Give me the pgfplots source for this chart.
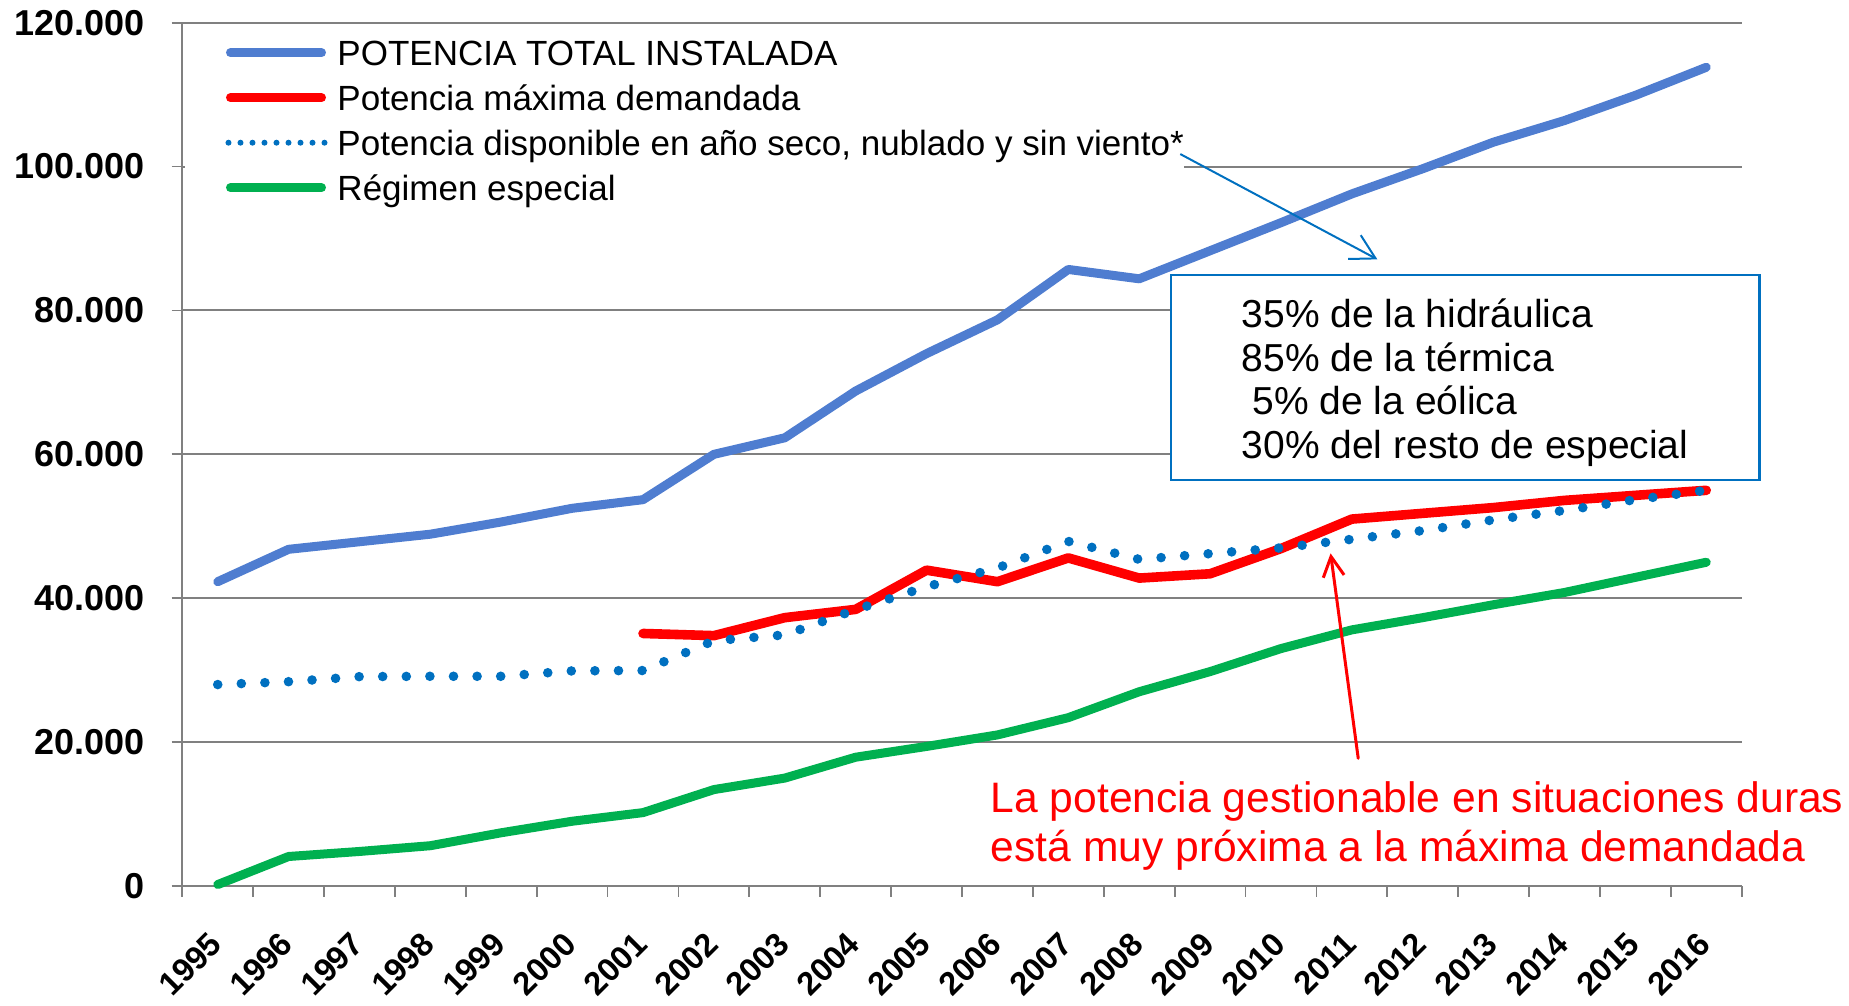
\documentclass[border=0pt]{standalone}
\usepackage{fontspec}
\setmainfont{Liberation Sans}
\usepackage{pgfplots}
\pgfplotsset{compat=1.18}
\usetikzlibrary{arrows.meta}
\definecolor{cBlue}{RGB}{79,125,208}
\definecolor{cRed}{RGB}{255,0,0}
\definecolor{cDot}{RGB}{0,112,192}
\definecolor{cGreen}{RGB}{0,176,80}
\definecolor{cGrid}{RGB}{128,128,128}
\begin{document}
\begin{tikzpicture}
\path[use as bounding box] (-91.15pt,-60pt) rectangle (833.35pt,443pt);
\begin{axis}[
  at={(0pt,0pt)}, anchor=south west,
  scale only axis, width=779.7pt, height=431.65pt,
  xmin=-0.5, xmax=21.5, ymin=0, ymax=120000,
  axis x line*=bottom, axis y line*=left,
  axis line style={-, cGrid, line width=0.9pt},
  xtick={-0.5,0.5,...,21.5},
  xticklabels={1995,1996,1997,1998,1999,2000,2001,2002,2003,2004,2005,2006,2007,2008,2009,2010,2011,2012,2013,2014,2015,2016},
  x tick label as interval,
  ytick={0,20000,40000,60000,80000,100000,120000},
  yticklabels={0,20.000,40.000,60.000,80.000,100.000,120.000},
  scaled y ticks=false,
  ymajorgrids, grid style={cGrid, line width=1pt},
  tick align=outside, major tick length=5.3pt,
  tick style={cGrid, line width=0.9pt},
  xticklabel style={yshift=-20.85pt, xshift=-0.8pt, rotate=45, anchor=east, inner sep=0pt, font=\fontsize{16.3}{16.3}\selectfont\bfseries},
  yticklabel style={xshift=-13.3pt, anchor=east, inner sep=0pt, font=\fontsize{18}{18}\selectfont\bfseries},
  clip=false,
  legend cell align=left,
  legend style={at={(0,1)}, anchor=north west, xshift=1pt, yshift=-4.5pt, draw=none, fill=white,
    inner xsep=0pt, inner ysep=0pt, row sep=1.9pt, column sep=5pt,
    font=\fontsize{17.5}{21}\selectfont,
    nodes={inner sep=0pt, text height=16.6pt, text depth=4pt}},
]
\addplot[cBlue, line width=4.5pt, line cap=round, line join=round,
  legend image code/.code={\path[draw=none] (0pt,0pt) -- (22.9pt,0pt); \draw[cBlue, line width=4.5pt, line cap=round, solid] (22.9pt,0pt) -- (68.4pt,0pt);}]
  coordinates {(0,42300)(1,46800)(2,47850)(3,48900)(4,50600)(5,52500)(6,53700)(7,60000)(8,62300)(9,68800)(10,74000)(11,78700)(12,85700)(13,84400)(14,88300)(15,92200)(16,96200)(17,99700)(18,103400)(19,106400)(20,109900)(21,113800)};
\addlegendentry{POTENCIA TOTAL INSTALADA}
\addplot[cRed, line width=4.8pt, line cap=round, line join=round,
  legend image code/.code={\path[draw=none] (0pt,0pt) -- (22.9pt,0pt); \draw[cRed, line width=4.5pt, line cap=round, solid] (22.9pt,0pt) -- (68.4pt,0pt);}]
  coordinates {(6,35100)(7,34800)(8,37300)(9,38450)(10,43900)(11,42300)(12,45600)(13,42800)(14,43400)(15,46900)(16,51000)(17,51800)(18,52600)(19,53600)(20,54300)(21,55000)};
\addlegendentry{Potencia máxima demandada}
\addplot[cDot, line width=4.8pt, line cap=round, line join=round, dash pattern=on 0pt off 11.8pt,
  legend image code/.code={\path[draw=none] (0pt,0pt) -- (22.9pt,0pt); \draw[cDot, line width=3pt, line cap=round, dash pattern=on 0pt off 6pt] (21.9pt,0pt) -- (69.9pt,0pt);}]
  coordinates {(0,28000)(1,28400)(2,29100)(3,29150)(4,29150)(5,29900)(6,29950)(7,34100)(8,34900)(9,38400)(10,41600)(11,44200)(12,47900)(13,45400)(14,46200)(15,47000)(16,48200)(17,49400)(18,50900)(19,52200)(20,53700)(21,55000)};
\addlegendentry{Potencia disponible en año seco, nublado y sin viento*}
\addplot[cGreen, line width=4.5pt, line cap=round, line join=round,
  legend image code/.code={\path[draw=none] (0pt,0pt) -- (22.9pt,0pt); \draw[cGreen, line width=4.5pt, line cap=round, solid] (22.9pt,0pt) -- (68.4pt,0pt);}]
  coordinates {(0,200)(1,4100)(2,4800)(3,5600)(4,7400)(5,9000)(6,10200)(7,13400)(8,15000)(9,17900)(10,19400)(11,21000)(12,23400)(13,27000)(14,29800)(15,33000)(16,35600)(17,37300)(18,39100)(19,40800)(20,42900)(21,45000)};
\addlegendentry{Régimen especial}
% annotation box
\draw[cDot, line width=1.1pt, fill=white] (axis cs:13.445,84920) rectangle (axis cs:21.75,56430);
\node[anchor=base west, inner sep=0pt, font=\fontsize{19.5}{19.5}\selectfont] at (axis cs:14.44,77693) {35\% de la hidráulica};
\node[anchor=base west, inner sep=0pt, font=\fontsize{19.5}{19.5}\selectfont] at (axis cs:14.44,71536) {85\% de la térmica};
\node[anchor=base west, inner sep=0pt, font=\fontsize{19.5}{19.5}\selectfont] at (axis cs:14.44,65601) {\hspace*{0.278em}5\% de la eólica};
\node[anchor=base west, inner sep=0pt, font=\fontsize{19.5}{19.5}\selectfont] at (axis cs:14.44,59486) {30\% del resto de especial};
% red annotation
\draw[cRed, line width=1.5pt, line cap=round, -{Straight Barb[length=10pt, width=10.5pt]}] (axis cs:16.09,17748) -- (axis cs:15.70,46241);
\node[anchor=base west, inner sep=0pt, text=cRed, font=\fontsize{21.3}{21.3}\selectfont] at (axis cs:10.90,10285) {La potencia gestionable en situaciones duras};
\node[anchor=base west, inner sep=0pt, text=cRed, font=\fontsize{21.3}{21.3}\selectfont] at (axis cs:10.90,3405) {está muy próxima a la máxima demandada};
\coordinate (bA) at (axis cs:13.58,101737);
\coordinate (bB) at (axis cs:16.36,87102);
\end{axis}
\draw[cDot, line width=1pt, -{Straight Barb[length=12pt, width=13.5pt]}] (bA) -- (bB);
\end{tikzpicture}
\end{document}
